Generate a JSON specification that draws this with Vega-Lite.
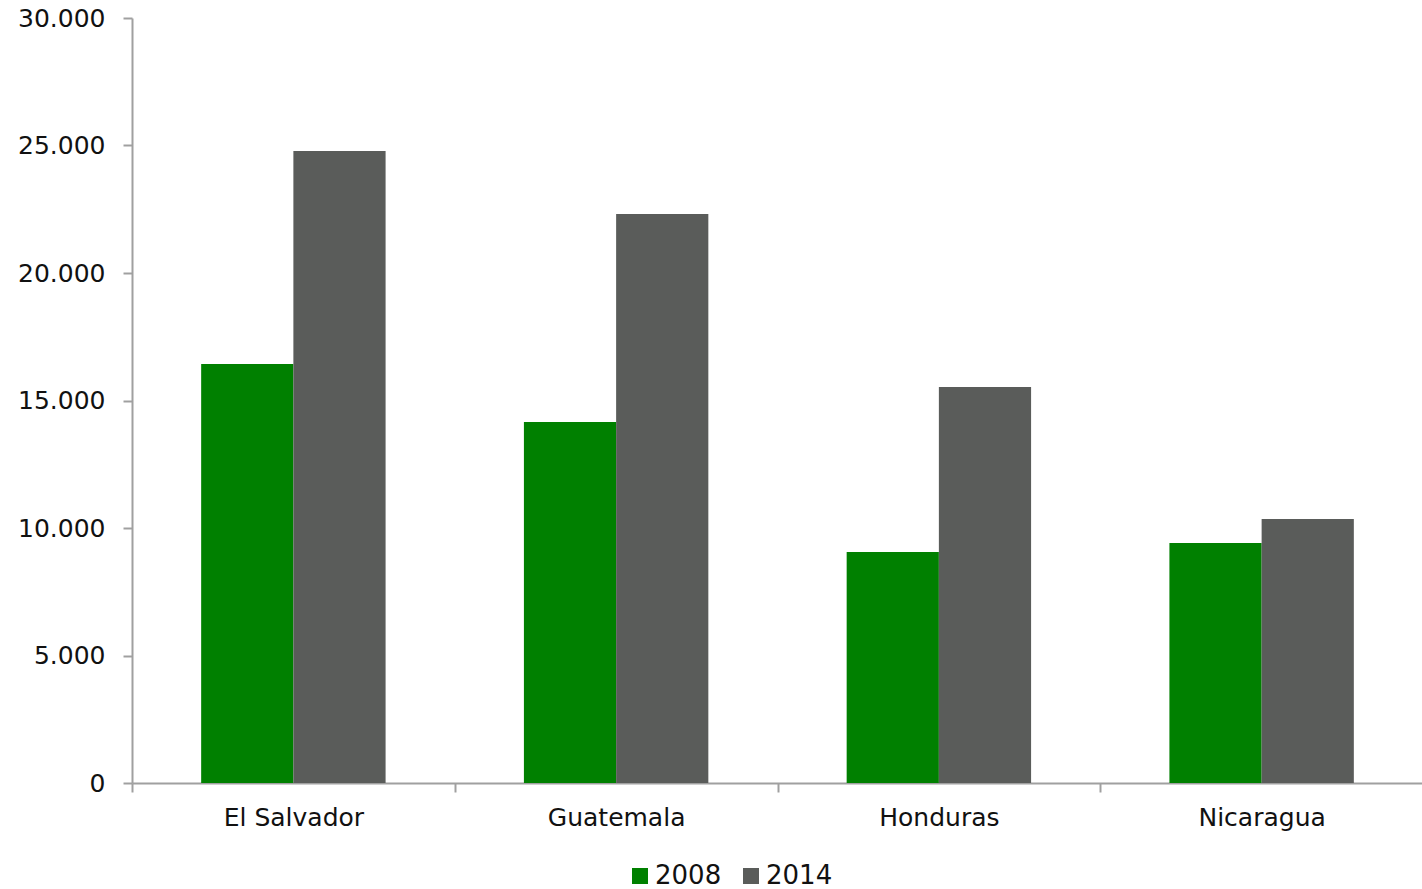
{
  "$schema": "https://vega.github.io/schema/vega-lite/v6.json",
  "width": 1291,
  "height": 765,
  "padding": {"top": 6, "left": 17, "right": 0, "bottom": 0},
  "background": "white",
  "data": {
    "values": [
      {"country": "El Salvador", "year": "2008", "value": 16430},
      {"country": "El Salvador", "year": "2014", "value": 24780},
      {"country": "Guatemala", "year": "2008", "value": 14160},
      {"country": "Guatemala", "year": "2014", "value": 22310},
      {"country": "Honduras", "year": "2008", "value": 9060},
      {"country": "Honduras", "year": "2014", "value": 15530},
      {"country": "Nicaragua", "year": "2008", "value": 9410},
      {"country": "Nicaragua", "year": "2014", "value": 10350}
    ]
  },
  "mark": {"type": "bar"},
  "encoding": {
    "x": {
      "field": "country",
      "type": "nominal",
      "sort": null,
      "title": null,
      "scale": {"paddingInner": 0, "paddingOuter": 0},
      "axis": {
        "tickBand": "extent",
        "labelAngle": 0,
        "labelFontSize": 25,
        "labelFont": "DejaVu Sans",
        "labelColor": "#111111",
        "labelPadding": 13,
        "domainColor": "#a0a0a0",
        "domainWidth": 2,
        "tickColor": "#a0a0a0",
        "tickWidth": 2,
        "tickSize": 9
      }
    },
    "xOffset": {
      "field": "year",
      "type": "nominal",
      "scale": {"paddingInner": 0, "paddingOuter": 0.75}
    },
    "y": {
      "field": "value",
      "type": "quantitative",
      "title": null,
      "scale": {"domain": [0, 30000], "nice": false},
      "axis": {
        "values": [0, 5000, 10000, 15000, 20000, 25000, 30000],
        "labelExpr": "replace(format(datum.value, ','), ',', '.')",
        "grid": false,
        "labelFontSize": 25,
        "labelFont": "DejaVu Sans",
        "labelColor": "#111111",
        "labelPadding": 18,
        "domainColor": "#a0a0a0",
        "domainWidth": 2,
        "tickColor": "#a0a0a0",
        "tickWidth": 2,
        "tickSize": 9
      }
    },
    "color": {
      "field": "year",
      "type": "nominal",
      "title": null,
      "scale": {"domain": ["2008", "2014"], "range": ["#008000", "#5a5c5a"]},
      "legend": {
        "orient": "none",
        "legendX": 495,
        "legendY": 845,
        "direction": "horizontal",
        "symbolType": "square",
        "symbolSize": 256,
        "symbolStrokeWidth": 0,
        "labelFontSize": 26,
        "labelFont": "DejaVu Sans",
        "labelColor": "#111111",
        "columnPadding": 16,
        "labelOffset": 2
      }
    }
  },
  "config": {
    "view": {"stroke": null}
  }
}
